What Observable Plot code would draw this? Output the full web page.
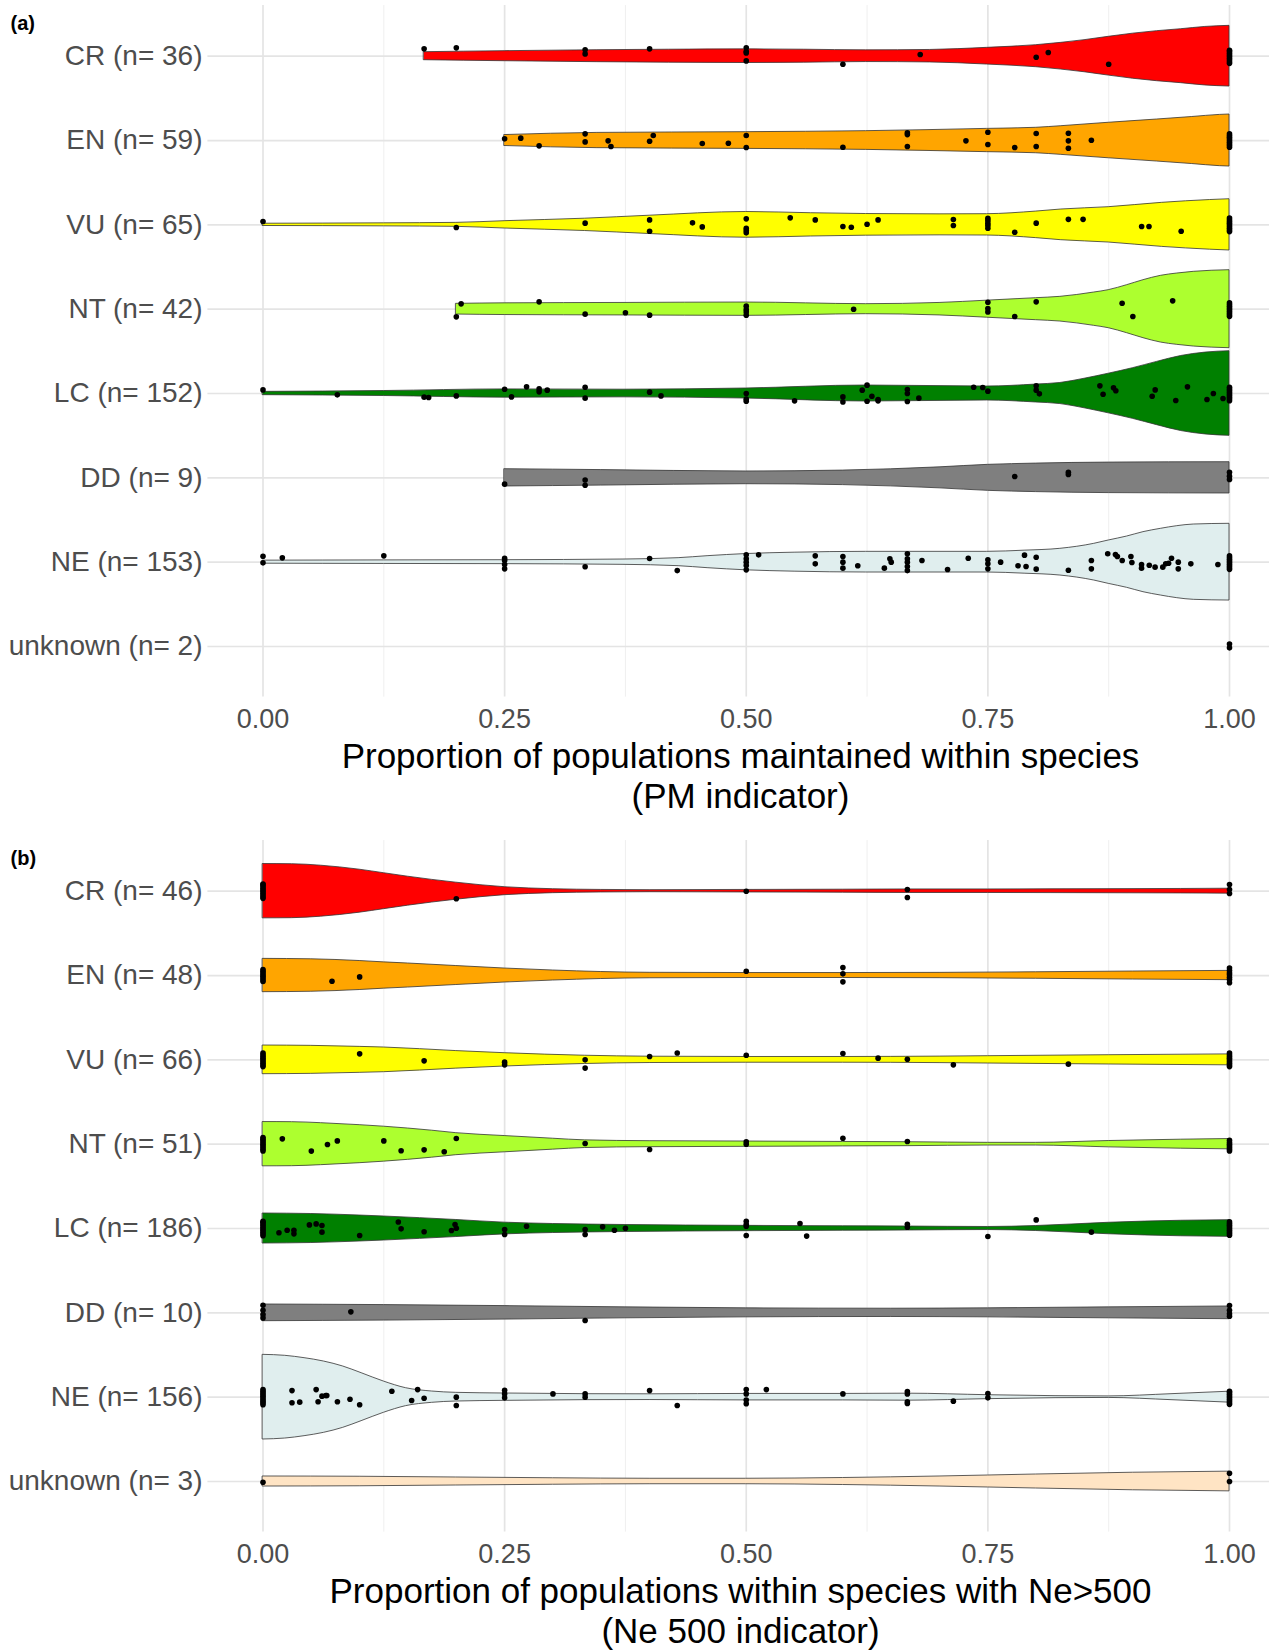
<!DOCTYPE html>
<html><head><meta charset="utf-8">
<script src="https://cdn.jsdelivr.net/npm/d3@7"></script>
<script src="https://cdn.jsdelivr.net/npm/@observablehq/plot@0.6"></script>
<style>
body{margin:0;background:#fff;}
#chart{width:1269px;overflow:hidden;}
svg{display:block;font-family:"Liberation Sans",Arial,Helvetica,sans-serif;}
</style></head><body><div id="chart"></div>
<script>
// ---------- categories, labels ----------
const categories = ["CR","EN","VU","NT","LC","DD","NE","unknown"];
const fills = ["#FF0000","#FFA500","#FFFF00","#ADFF2F","#008000","#7F7F7F","#E0EEEE","#FFE4C4"];
const countsPM = [36,59,65,42,152,9,153,2];
const countsNe = [46,48,66,51,186,10,156,3];
const xTicks = [0,0.25,0.5,0.75,1];
const xMinorTicks = [0.125,0.375,0.625,0.875];
const titlePM = ["Proportion of populations maintained within species","(PM indicator)"];
const titleNe = ["Proportion of populations within species with Ne>500","(Ne 500 indicator)"];

// ---------- violin profiles: [value, width in % of row spacing] ----------
const pmVioCR = [[.1667,9.5],[.25,11.9],[.346,14.2],[.42,15.4],[.5,16.2],[.56,15.4],[.624,13.9],[.69,14.8],[.749,19.8],[.8,26.1],[.826,31.7],[.85,38.0],[.875,46],[.9,53.4],[.925,59.3],[.95,64.0],[.975,69.4],[1,72.0]];
const pmVioEN = [[.25,13.0],[.346,18.1],[.5,19.8],[.624,22.2],[.749,27.6],[.8,30.2],[.826,34.0],[.875,42.1],[.925,49.8],[.961,55.7],[.99,60.8],[1,61.7]];
const pmVioVU = [[0,2.7],[.125,3.6],[.2,4.7],[.25,8.7],[.333,14.6],[.4,21.7],[.5,30.5],[.567,27.6],[.624,25.7],[.7,24.9],[.749,25.3],[.8,31.5],[.826,36.4],[.875,41.9],[.93,52.2],[.98,58.9],[1,60.8]];
const pmVioNT = [[.2,12.7],[.25,13.9],[.373,14.8],[.5,15.8],[.624,11.9],[.7,14.8],[.749,20.2],[.8,26.1],[.825,29.3],[.86,39.5],[.875,45.1],[.894,56.9],[.911,68.8],[.929,79.1],[.946,84.6],[.963,88.6],[1,92.5]];
const pmVioLC = [[0,3.9],[.125,5.9],[.25,9.8],[.373,9.1],[.5,11.9],[.624,19.0],[.749,16.6],[.8,21.3],[.825,25],[.85,35],[.875,47],[.9,60],[.925,75],[.95,89],[.975,97],[1,100.4]];
const pmVioDD = [[.25,20.5],[.35,18.4],[.5,15.1],[.6,17.2],[.7,24.9],[.75,30.8],[.8,33.8],[.875,36.2],[1,37.1]];
const pmVioNE = [[0,3.6],[.125,4.2],[.25,4.7],[.373,6.3],[.43,9.5],[.46,14.2],[.5,19.3],[.55,22.5],[.624,24.5],[.749,24.5],[.788,27.3],[.825,31.7],[.86,43.5],[.875,51.4],[.894,60.8],[.911,71.2],[.929,79.1],[.946,85.4],[.963,89.3],[1,91.0]];
const pmVioUnknown = [];

const neVioCR = [[0,64.4],[.03,64.0],[.06,60.5],[.1,51.0],[.125,42.7],[.15,34.4],[.2,20.2],[.25,9.5],[.3,4.7],[.35,3.0],[.4,2.4],[.5,3.0],[.6,3.6],[.667,4.2],[.75,4.2],[.85,4.7],[.95,5.3],[1,5.9]];
const neVioEN = [[0,39.5],[.05,38.5],[.1,34.4],[.125,31.2],[.15,28.5],[.2,22.5],[.25,16.6],[.3,11.9],[.35,8.3],[.4,6.5],[.5,5.9],[.6,5.9],[.7,6.3],[.8,7.7],[.9,9.5],[1,11.0]];
const neVioVU = [[0,34.0],[.05,33.2],[.1,30.8],[.125,29.3],[.2,20.8],[.25,15.8],[.333,9.8],[.4,7.5],[.5,6.8],[.6,6.8],[.7,7.7],[.75,8.7],[.875,11.0],[1,13.0]];
const neVioNT = [[0,52.5],[.03,52.2],[.06,49.8],[.1,45.1],[.125,41.5],[.175,32.0],[.2,26.1],[.25,19.3],[.3,13.0],[.333,9.1],[.4,7.1],[.5,6.3],[.6,5.3],[.667,4.7],[.75,3.2],[.8,3.2],[.875,7.5],[.95,10.7],[1,12.2]];
const neVioLC = [[0,35.6],[.05,34.4],[.1,30.8],[.125,28.5],[.2,20.2],[.25,13.9],[.3,10.7],[.375,8.3],[.5,6.3],[.6,5.3],[.667,4.7],[.75,3.6],[.8,5.9],[.875,13.6],[.95,18.4],[1,19.8]];
const neVioDD = [[0,19.8],[.125,18.4],[.25,16.0],[.375,13.0],[.5,10.7],[.65,9.8],[.75,10.7],[.875,13.0],[1,15.1]];
const neVioNE = [[0,100.4],[.023,98.1],[.043,92.5],[.063,84.6],[.083,72.7],[.102,56.9],[.125,37.1],[.148,21.3],[.175,13.4],[.2,10.3],[.25,8.7],[.333,7.1],[.4,6.8],[.5,7.7],[.6,7.7],[.667,8.3],[.75,4.7],[.82,2.4],[.875,1.8],[.94,7.1],[1,13.0]];
const neVioUnknown = [[0,11.9],[.1,11.3],[.2,9.5],[.3,7.7],[.4,6.5],[.5,6.5],[.6,8.3],[.7,11.9],[.75,14.2],[.8,16.6],[.9,20.8],[1,23.4]];

// ---------- jittered points: [value, vertical jitter in row units (+ = up)] ----------
const pmPtsCR = [[.1667,.087],[.2,.099],[.3333,.075],[.3333,.027],[.4,.087],[.5,.099],[.5,.056],[.5,.039],[.5,-.056],[.6,-.095],[.68,.02],[.8,-.012],[.8125,.044],[.875,-.095],
 [1,-.085],[1,-.065],[1,-.045],[1,-.025],[1,-.005],[1,.015],[1,.035],[1,.055],[1,.07]];
const pmPtsEN = [[.25,.02],[.2667,.028],[.2857,-.063],[.3333,.079],[.3333,-.016],[.3571,-.004],[.36,-.071],[.4,-.008],[.4038,.059],[.4545,-.036],[.4815,-.032],[.5,.059],[.5,-.083],[.6,-.08],[.6667,.091],[.6667,.07],[.6667,-.071],[.7273,-.004],[.75,.099],[.75,-.047],[.7778,-.083],[.8,.083],[.8,-.071],[.8333,.087],[.8333,-.004],[.8333,-.091],[.8571,.004],
 [1,-.08],[1,-.06],[1,-.04],[1,-.02],[1,0],[1,.02],[1,.04],[1,.06],[1,.08]];
const pmPtsVU = [[0,.04],[.2,-.032],[.3333,.02],[.4,.059],[.4,-.075],[.4444,.024],[.4545,-.024],[.5,.071],[.5,-.04],[.5,-.067],[.5,-.095],[.5455,.083],[.5714,.059],[.6,-.02],[.6087,-.028],[.625,.008],[.6364,.059],[.7143,.063],[.7143,-.008],[.75,.079],[.75,.051],[.75,.02],[.75,-.008],[.75,-.04],[.7778,-.087],[.8,.02],[.8333,.065],[.8485,.065],[.9091,-.02],[.9167,-.02],[.95,-.075],
 [1,-.08],[1,-.06],[1,-.04],[1,-.02],[1,0],[1,.02],[1,.04],[1,.06],[1,.08]];
const pmPtsNT = [[.2,-.091],[.205,.063],[.2857,.087],[.3333,-.059],[.375,-.043],[.4,-.071],[.5,.036],[.5,-.004],[.5,-.032],[.5,-.071],[.6111,0],[.75,.083],[.75,.008],[.75,-.032],[.7778,-.087],[.8,.087],[.8889,.071],[.9,-.087],[.9412,.099],
 [1,-.085],[1,-.065],[1,-.045],[1,-.025],[1,-.005],[1,.015],[1,.035],[1,.055],[1,.075]];
const pmPtsLC = [[0,.043],[.0769,-.016],[.1667,-.043],[.1714,-.047],[.2,-.028],[.25,.051],[.2571,-.04],[.2727,.079],[.2857,.055],[.2857,.02],[.2941,.04],[.3333,.075],[.3333,-.055],[.4,.016],[.4118,-.028],[.5,0],[.5,-.067],[.5,-.091],[.55,-.087],[.6,-.04],[.6,-.1],[.62,.04],[.625,.099],[.625,-.091],[.63,-.032],[.6364,-.087],[.6364,-.071],[.6667,.047],[.6667,0],[.6667,-.095],[.6786,-.055],[.7353,.075],[.7447,.071],[.75,.028],[.8,.091],[.8,.04],[.8033,-.004],[.8659,.091],[.8692,-.008],[.88,.067],[.8824,.032],[.92,-.032],[.9231,.043],[.9444,-.083],[.9565,.079],[.9767,-.071],[.9833,0],[.9933,-.059],
 [1,-.085],[1,-.065],[1,-.045],[1,-.025],[1,-.005],[1,.015],[1,.035],[1,.055],[1,.075]];
const pmPtsDD = [[.25,-.075],[.3333,-.025],[.3333,-.087],[.7778,.016],[.8333,.067],[.8333,.04],[1,.067],[1,.02],[1,-.02]];
const pmPtsNE = [[0,.071],[0,-.008],[.02,.051],[.125,.075],[.25,.047],[.25,.02],[.25,-.028],[.25,-.079],[.3333,-.055],[.4,.043],[.4286,-.1],[.5,.087],[.5,.04],[.5,0],[.5,-.04],[.5,-.091],[.5128,.087],[.5714,.075],[.5714,-.02],[.6,.067],[.6,0],[.6,-.071],[.6154,-.043],[.6429,-.071],[.6486,.04],[.65,0],[.6667,.099],[.6667,.04],[.6667,0],[.6667,-.051],[.6667,-.1],[.6818,.02],[.7083,-.087],[.7297,.047],[.75,.028],[.75,-.02],[.75,-.079],[.7632,0],[.7812,-.043],[.7879,.083],[.7895,-.051],[.8,.059],[.8,-.083],[.8333,-.095],[.8571,.02],[.8571,-.079],
 [.874,.099],[.882,.091],[.884,.067],[.889,.02],[.898,.067],[.899,-.004],[.909,-.028],[.909,-.071],[.917,-.036],[.923,-.059],[.931,-.059],[.934,-.02],[.937,-.012],[.94,.047],[.947,0],[.947,-.079],[.96,-.02],[.988,-.028],
 [1,-.085],[1,-.065],[1,-.045],[1,-.025],[1,-.005],[1,.015],[1,.035],[1,.055],[1,.075]];
const pmPtsUnknown = [[1,.03],[1,-.016]];

const nePtsCR = [[0,-.085],[0,-.065],[0,-.045],[0,-.025],[0,-.005],[0,.015],[0,.035],[0,.055],[0,.075],[0,.085],
 [.2,-.09],[.5,0],[.6667,.02],[.6667,-.075],[1,.078],[1,.02],[1,-.027]];
const nePtsEN = [[0,-.07],[0,-.05],[0,-.03],[0,-.01],[0,.01],[0,.03],[0,.05],[0,.07],
 [.0714,-.067],[.1,-.016],[.5,.051],[.6,.094],[.6,.02],[.6,-.075],[1,.09],[1,.059],[1,.03],[1,.008],[1,-.02],[1,-.047],[1,-.085]];
const nePtsVU = [[0,-.08],[0,-.06],[0,-.04],[0,-.02],[0,0],[0,.02],[0,.04],[0,.06],[0,.08],
 [.1,.071],[.1667,-.012],[.25,-.027],[.25,-.059],[.3333,0],[.3333,-.098],[.4,.039],[.4286,.082],[.5,.055],[.6,.075],[.6364,.02],[.6667,.008],[.7143,-.059],[.8333,-.051],
 [1,-.08],[1,-.06],[1,-.04],[1,-.02],[1,0],[1,.02],[1,.04],[1,.06],[1,.08]];
const nePtsNT = [[0,-.08],[0,-.06],[0,-.04],[0,-.02],[0,0],[0,.02],[0,.04],[0,.06],[0,.08],
 [.02,.063],[.05,-.082],[.0667,-.004],[.0769,.039],[.125,.039],[.1429,-.078],[.1667,-.067],[.1875,-.09],[.2,.067],[.3333,.008],[.4,-.063],[.5,.027],[.5,0],[.6,.071],[.6667,.031],
 [1,-.08],[1,-.06],[1,-.04],[1,-.02],[1,0],[1,.02],[1,.047]];
const nePtsLC = [[0,-.085],[0,-.065],[0,-.045],[0,-.025],[0,-.005],[0,.015],[0,.035],[0,.055],[0,.075],[0,.085],
 [.0165,-.051],[.025,-.02],[.032,-.02],[.032,-.063],[.048,.043],[.055,.055],[.061,.035],[.061,-.043],[.1,-.082],[.14,.078],[.1429,-.004],[.1667,-.039],[.195,-.024],[.1987,.047],[.2,.004],[.25,-.012],[.25,-.071],[.2727,.027],[.3333,-.012],[.3333,-.071],[.3514,.02],[.3636,-.02],[.375,.004],[.5,.086],[.5,.05],[.5,.027],[.5,-.082],[.5556,.059],[.5625,-.09],[.6667,.051],[.6667,.016],[.75,-.094],[.8,.102],[.8571,-.043],
 [1,-.08],[1,-.06],[1,-.04],[1,-.02],[1,0],[1,.02],[1,.04],[1,.06],[1,.08]];
const nePtsDD = [[0,.09],[0,.03],[0,-.02],[0,-.06],[.0909,.012],[.3333,-.09],[1,.086],[1,.03],[1,-.01],[1,-.04]];
const nePtsNE = [[0,-.09],[0,-.07],[0,-.05],[0,-.03],[0,-.01],[0,.01],[0,.03],[0,.05],[0,.07],[0,.09],
 [.03,.078],[.03,-.067],[.038,-.059],[.055,.09],[.057,-.055],[.061,.012],[.065,.02],[.066,.02],[.077,-.055],[.09,-.024],[.1,-.09],[.1333,.071],[.1538,-.039],[.16,.09],[.1667,-.012],[.2,0],[.2,-.098],[.25,.082],[.25,.039],[.25,-.008],[.3,.039],[.3333,.039],[.3333,0],[.4,.078],[.4286,-.098],[.5,.09],[.5,.039],[.5,-.035],[.5,-.078],[.5208,.09],[.6,.039],[.6667,.067],[.6667,.039],[.6667,-.055],[.6667,-.075],[.7143,-.047],[.75,.043],[.75,-.008],
 [1,-.085],[1,-.065],[1,-.045],[1,-.025],[1,-.005],[1,.015],[1,.035],[1,.055],[1,.07]];
const nePtsUnknown = [[0,-.008],[1,.098],[1,0]];

const pmViolins = [pmVioCR,pmVioEN,pmVioVU,pmVioNT,pmVioLC,pmVioDD,pmVioNE,pmVioUnknown];
const neViolins = [neVioCR,neVioEN,neVioVU,neVioNT,neVioLC,neVioDD,neVioNE,neVioUnknown];
const pmPoints = [pmPtsCR,pmPtsEN,pmPtsVU,pmPtsNT,pmPtsLC,pmPtsDD,pmPtsNE,pmPtsUnknown];
const nePoints = [nePtsCR,nePtsEN,nePtsVU,nePtsNT,nePtsLC,nePtsDD,nePtsNE,nePtsUnknown];

// ---------- layout ----------
const W = 1269, ML = 262.5, MR = 40, MT = 5.1, PANEL_BOTTOM = 696.6;
const idx = categories.map((_, i) => i);

function panel(label, counts, violins, points, title, height) {
  const marks = [];
  marks.push(Plot.ruleX(xMinorTicks, {x: d => d, y1: -0.6, y2: 7.6, stroke: "#EDEDED", strokeWidth: 0.9}));
  marks.push(Plot.ruleX(xTicks, {x: d => d, y1: -0.6, y2: 7.6, stroke: "#E4E4E4", strokeWidth: 1.7}));
  marks.push(Plot.ruleY(idx, {y: d => d, x1: -0.057, x2: 1.06, stroke: "#E4E4E4", strokeWidth: 1.7}));
  violins.forEach((prof, i) => {
    if (!prof.length) return;
    const rows = prof.map(([x, w]) => ({x, lo: i - w / 200, hi: i + w / 200}));
    marks.push(Plot.areaY(rows, {x: "x", y1: "lo", y2: "hi", fill: fills[i], stroke: "#333333", strokeWidth: 0.8, curve: "monotone-x"}));
  });
  points.forEach((pts, i) => {
    marks.push(Plot.dot(pts, {x: d => d[0], y: d => i - d[1], r: 2.8, fill: "black", stroke: "none"}));
  });
  marks.push(Plot.axisY(idx, {tickFormat: i => `${categories[i]} (n= ${counts[i]})`, tickSize: 0, tickPadding: 60.5, fontSize: 28, fill: "#4D4D4D", label: null}));
  marks.push(Plot.axisX(xTicks, {tickFormat: d => d.toFixed(2), tickSize: 0, tickPadding: 12, fontSize: 27, fill: "#4D4D4D", label: null}));
  const cx = (ML + (W - MR)) / 2;
  marks.push(Plot.text([title[0]], {text: d => d, frameAnchor: "bottom", dx: 740 - cx, dy: 767 - PANEL_BOTTOM, lineAnchor: "bottom", fontSize: 35, fill: "black"}));
  marks.push(Plot.text([title[1]], {text: d => d, frameAnchor: "bottom", dx: 740 - cx, dy: 807 - PANEL_BOTTOM, lineAnchor: "bottom", fontSize: 35, fill: "black"}));
  marks.push(Plot.text([label], {text: d => d, frameAnchor: "top-left", dx: 10 - ML, dy: 29 - MT, lineAnchor: "bottom", textAnchor: "start", fontSize: 20, fontWeight: "bold", fill: "black"}));
  return Plot.plot({
    width: W, height,
    marginLeft: ML, marginRight: MR, marginTop: MT, marginBottom: height - PANEL_BOTTOM,
    x: {domain: [0, 1]},
    y: {domain: [-0.6, 7.6], reverse: true},
    style: {fontFamily: '"Liberation Sans", Arial, Helvetica, sans-serif', background: "white", overflow: "visible"},
    marks
  });
}

const chart = document.getElementById("chart");
chart.append(panel("(a)", countsPM, pmViolins, pmPoints, titlePM, 835));
chart.append(panel("(b)", countsNe, neViolins, nePoints, titleNe, 816));
</script>
</body></html>
